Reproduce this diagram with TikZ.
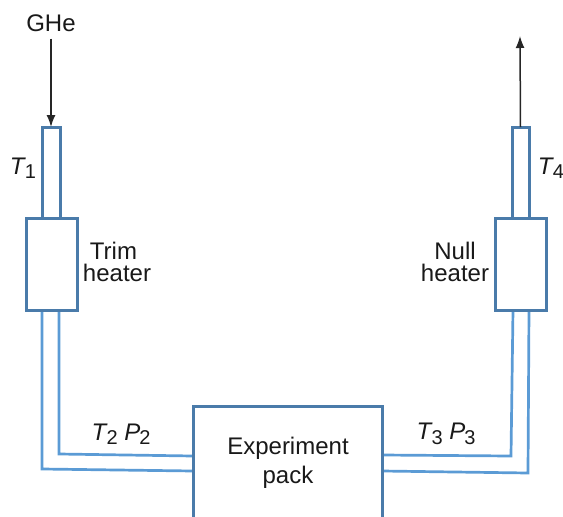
\documentclass[tikz,border=0pt]{standalone}
\usepackage{fontspec}
\setmainfont{Liberation Sans}
\usetikzlibrary{arrows.meta}
\definecolor{boxblue}{HTML}{4A7BAA}
\definecolor{pipeblue}{HTML}{5B9BD5}
\tikzset{
  x=1pt,y=-1pt,
  unit/.style={draw=boxblue,line width=3pt,fill=white,inner sep=0pt,outer sep=0pt,anchor=north west},
  pipe/.style={draw=pipeblue,line width=2.7pt,line join=miter},
  flow/.style={draw=black!85,line width=1.5pt,-{Latex[length=12pt,width=9pt]}},
  lbl/.style={font=\fontsize{24}{22}\selectfont,align=center,inner sep=0pt,text=black!90}
}
\newcommand{\sym}[2]{\textit{#1}\kern-1pt\raisebox{-4.5pt}{\fontsize{20}{24}\selectfont #2}}
\begin{document}
\begin{tikzpicture}
\useasboundingbox (0,0) rectangle (563,517);
\clip (0,0) rectangle (563,517);
% bends of the pipes
\coordinate (lob) at (42,469);
\coordinate (lib) at (59,454);
\coordinate (rib) at (511,456);
\coordinate (rob) at (528,473);
\coordinate (lot) at (42,310);
\coordinate (lit) at (59,310);
\coordinate (rit) at (513,310);
\coordinate (rot) at (529,310);
\coordinate (lol) at (193,471);
\coordinate (lil) at (193,456);
\coordinate (ril) at (382,455);
\coordinate (rol) at (382,471);
\draw[pipe] (lot) -- (lob) -- (lol);
\draw[pipe] (lit) -- (lib) -- (lil);
\draw[pipe] (rit) -- (rib) -- (ril);
\draw[pipe] (rot) -- (rob) -- (rol);
% units
\node[unit,minimum width=18pt,minimum height=91pt] (ltube) at (42,127) {};
\node[unit,minimum width=17pt,minimum height=91pt] (rtube) at (512,127) {};
\node[unit,minimum width=51pt,minimum height=92pt] (trim) at (26,218) {};
\node[unit,minimum width=51pt,minimum height=92pt] (null) at (495,218) {};
\node[unit,minimum width=189pt,minimum height=140pt] (pack) at (193,406) {};
% arrows
\node[lbl] (ghe) at (51,23) {GHe};
\coordinate (out) at (520,36);
\draw[flow] (ghe.south) ++(0,7) -- (ltube.north);
\draw[flow] (rtube.north) -- (out);
% labels
\node[lbl] (t1) at (23,168) {\sym{T}{1}};
\node[lbl] (t4) at (551,168) {\sym{T}{4}};
\node[lbl] (trimt) at (117,262) {\hspace*{-7pt}Trim\\heater};
\node[lbl] (nullt) at (455,262) {Null\\heater};
\node[lbl] (t2p2) at (121,434) {\sym{T}{2} \sym{P}{2}};
\node[lbl] (t3p3) at (446,434) {\sym{T}{3} \sym{P}{3}};
\node[lbl,font=\fontsize{24}{28.5}\selectfont] (packt) at (288,463) {Experiment\\pack};
\end{tikzpicture}
\end{document}
